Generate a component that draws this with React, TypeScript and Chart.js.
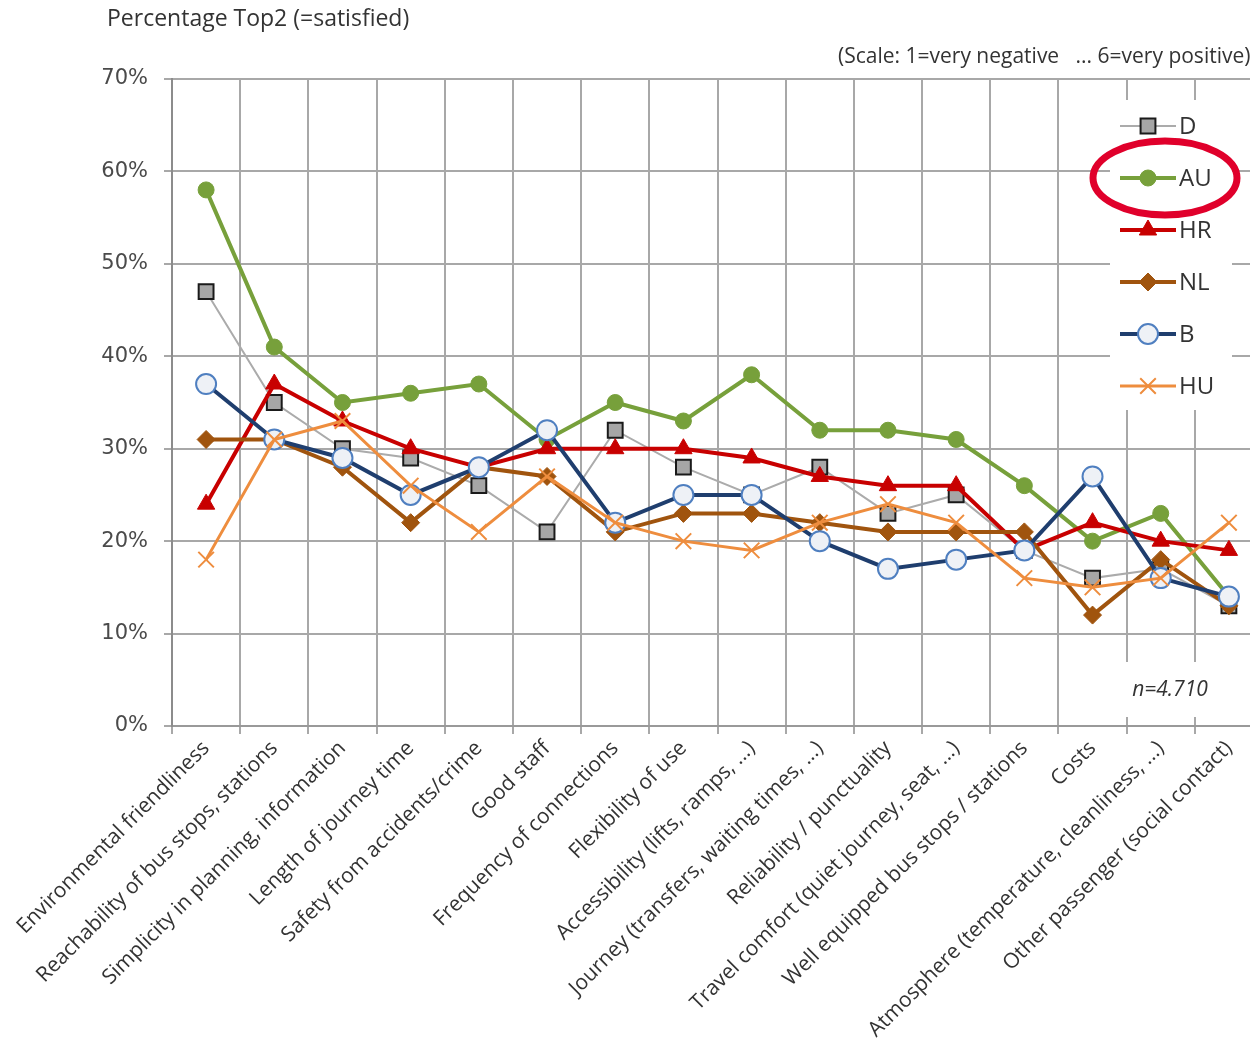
import React, { useEffect, useRef } from 'react';
import { Chart, registerables } from 'chart.js';

Chart.register(...registerables);

const categories = [
  'Environmental friendliness',
  'Reachability of bus stops, stations',
  'Simplicity in planning, information',
  'Length of journey time',
  'Safety from accidents/crime',
  'Good staff',
  'Frequency of connections',
  'Flexibility of use',
  'Accessibility (lifts, ramps, ...)',
  'Journey (transfers, waiting times, ...)',
  'Reliability / punctuality',
  'Travel comfort (quiet journey, seat, ...)',
  'Well equipped bus stops / stations',
  'Costs',
  'Atmosphere (temperature, cleanliness, ...)',
  'Other passenger (social contact)',
];

const seriesNames = ['D', 'AU', 'HR', 'NL', 'B', 'HU'];
const valuesD = [47, 35, 30, 29, 26, 21, 32, 28, 25, 28, 23, 25, 19, 16, 17, 13];
const valuesAU = [58, 41, 35, 36, 37, 31, 35, 33, 38, 32, 32, 31, 26, 20, 23, 14];
const valuesHR = [24, 37, 33, 30, 28, 30, 30, 30, 29, 27, 26, 26, 19, 22, 20, 19];
const valuesNL = [31, 31, 28, 22, 28, 27, 21, 23, 23, 22, 21, 21, 21, 12, 18, 13];
const valuesB = [37, 31, 29, 25, 28, 32, 22, 25, 25, 20, 17, 18, 19, 27, 16, 14];
const valuesHU = [18, 31, 33, 26, 21, 27, 22, 20, 19, 22, 24, 22, 16, 15, 16, 22];

const yMin = 0;
const yMax = 70;
const yStep = 10;

const titleText = 'Percentage Top2 (=satisfied)';
const scaleText = '(Scale: 1=very negative   ... 6=very positive)';
const nText = 'n=4.710';
const highlighted = 'AU';

const W = 1276;
const H = 1053;

function drawMarker(ctx: CanvasRenderingContext2D, style: string, x: number, y: number, r: number, fill: string, stroke: string, bw: number) {
  ctx.save();
  ctx.fillStyle = fill;
  ctx.strokeStyle = stroke;
  ctx.lineWidth = bw;
  ctx.beginPath();
  if (style === 'rect') {
    const s = Math.SQRT1_2 * r;
    ctx.rect(x - s, y - s, 2 * s, 2 * s);
    ctx.fill();
    ctx.stroke();
  } else if (style === 'circle') {
    ctx.arc(x, y, r, 0, Math.PI * 2);
    ctx.fill();
    ctx.stroke();
  } else if (style === 'triangle') {
    ctx.moveTo(x, y - r);
    ctx.lineTo(x + r * 0.866, y + r * 0.5);
    ctx.lineTo(x - r * 0.866, y + r * 0.5);
    ctx.closePath();
    ctx.fill();
    ctx.stroke();
  } else if (style === 'rectRot') {
    ctx.moveTo(x, y - r);
    ctx.lineTo(x + r, y);
    ctx.lineTo(x, y + r);
    ctx.lineTo(x - r, y);
    ctx.closePath();
    ctx.fill();
    ctx.stroke();
  } else if (style === 'crossRot') {
    const s = Math.SQRT1_2 * r;
    ctx.moveTo(x - s, y - s);
    ctx.lineTo(x + s, y + s);
    ctx.moveTo(x - s, y + s);
    ctx.lineTo(x + s, y - s);
    ctx.stroke();
  }
  ctx.restore();
}

const overlayPlugin = {
  id: 'overlay',
  afterDraw(chart: any) {
    const ctx: CanvasRenderingContext2D = chart.ctx;
    ctx.save();
    ctx.fillStyle = '#333333';
    ctx.textBaseline = 'middle';
    ctx.textAlign = 'left';
    ctx.font = '23px "Open Sans"';
    ctx.fillText(titleText, 107, 19, 308);
    ctx.font = '21px "Open Sans"';
    ctx.fillText(scaleText, 838, 57, 414);

    // n box
    ctx.fillStyle = '#ffffff';
    ctx.fillRect(1112, 662, 116, 55);
    ctx.fillStyle = '#333333';
    ctx.font = 'italic 21px "Open Sans"';
    ctx.textAlign = 'center';
    ctx.fillText(nText, 1170, 690);

    // legend
    ctx.fillStyle = '#ffffff';
    ctx.fillRect(1110, 100, 122, 310);
    const ds = chart.data.datasets;
    const y0 = 126;
    const dy = 52;
    ds.forEach((d: any, i: number) => {
      const y = y0 + i * dy;
      ctx.save();
      ctx.strokeStyle = d.borderColor;
      ctx.lineWidth = d.borderWidth;
      ctx.beginPath();
      ctx.moveTo(1120, y);
      ctx.lineTo(1176, y);
      ctx.stroke();
      ctx.restore();
      drawMarker(ctx, d.pointStyle, 1148, y, d.pointRadius, d.pointBackgroundColor, d.pointBorderColor, d.pointBorderWidth);
      ctx.fillStyle = '#333333';
      ctx.font = '24px "Open Sans"';
      ctx.textAlign = 'left';
      ctx.textBaseline = 'middle';
      ctx.fillText(d.label, 1179, y + 1);
      if (d.label === highlighted) {
        ctx.save();
        ctx.strokeStyle = '#e0002b';
        ctx.lineWidth = 7;
        ctx.beginPath();
        ctx.ellipse(1165, y, 72, 37, 0, 0, Math.PI * 2);
        ctx.stroke();
        ctx.restore();
      }
    });
    ctx.restore();
  },
};

export default function App() {
  const ref = useRef<HTMLCanvasElement | null>(null);
  useEffect(() => {
    if (!ref.current) return;
    const mk = (label: string, data: number[], color: string, width: number, style: string, r: number, fill: string, stroke: string, bw: number, order: number) => ({
      label,
      data,
      borderColor: color,
      backgroundColor: color,
      borderWidth: width,
      pointStyle: style,
      pointRadius: r,
      pointHoverRadius: r,
      pointBackgroundColor: fill,
      pointBorderColor: stroke,
      pointBorderWidth: bw,
      tension: 0,
      fill: false,
      order,
    });
    const chart = new Chart(ref.current, {
      type: 'line',
      data: {
        labels: categories,
        datasets: [
          mk(seriesNames[0], valuesD, '#ababab', 2, 'rect', 10.5, '#a6a6a6', '#1a1a1a', 2, 5),
          mk(seriesNames[1], valuesAU, '#77a03b', 4, 'circle', 8, '#77a03b', '#77a03b', 1, 4),
          mk(seriesNames[2], valuesHR, '#c80000', 4, 'triangle', 10, '#c80000', '#c80000', 1, 3),
          mk(seriesNames[3], valuesNL, '#a0540e', 4, 'rectRot', 9, '#a0540e', '#a0540e', 1, 2),
          mk(seriesNames[4], valuesB, '#1f3e6e', 4, 'circle', 10, '#eef1f6', '#4f7fc0', 2, 1),
          mk(seriesNames[5], valuesHU, '#ee8d3e', 3, 'crossRot', 11, '#ee8d3e', '#ee8d3e', 2, 0),
        ],
      },
      options: {
        animation: false,
        responsive: false,
        devicePixelRatio: 1,
        layout: { padding: { left: 0, top: 79, right: 2, bottom: 0 } },
        plugins: {
          legend: { display: false },
          tooltip: { enabled: false },
          title: { display: false },
        },
        scales: {
          x: {
            type: 'category',
            offset: true,
            grid: { offset: true, color: '#a8a8a8', lineWidth: 2, tickLength: 8, drawTicks: true },
            border: { color: '#999999', width: 2 },
            ticks: {
              autoSkip: false,
              minRotation: 45,
              maxRotation: 45,
              color: '#333333',
              font: { family: 'Open Sans', size: 21 },
              padding: 2,
            },
            afterFit(scale: any) {
              scale.height = H - 726;
              scale.paddingLeft = 0;
              scale.paddingRight = 0;
            },
          },
          y: {
            min: yMin,
            max: yMax,
            grid: { color: '#a8a8a8', lineWidth: 2, tickLength: 8 },
            border: { color: '#8c8c8c', width: 2 },
            ticks: {
              stepSize: yStep,
              color: '#4a4a4a',
              font: { family: 'DejaVu Sans', size: 21 },
              padding: 16,
              callback: (v: any) => v + '%',
            },
            afterFit(scale: any) {
              scale.width = 172;
            },
          },
        },
      },
      plugins: [overlayPlugin],
    } as any);
    return () => chart.destroy();
  }, []);
  return (
    <div style={{ position: 'fixed', left: 0, top: 0, width: 1250, height: 1053, overflow: 'hidden', background: '#fff' }}>
      <div style={{ width: W, height: H }}>
        <canvas ref={ref} width={W} height={H} style={{ width: W, height: H, display: 'block' }} />
      </div>
    </div>
  );
}
